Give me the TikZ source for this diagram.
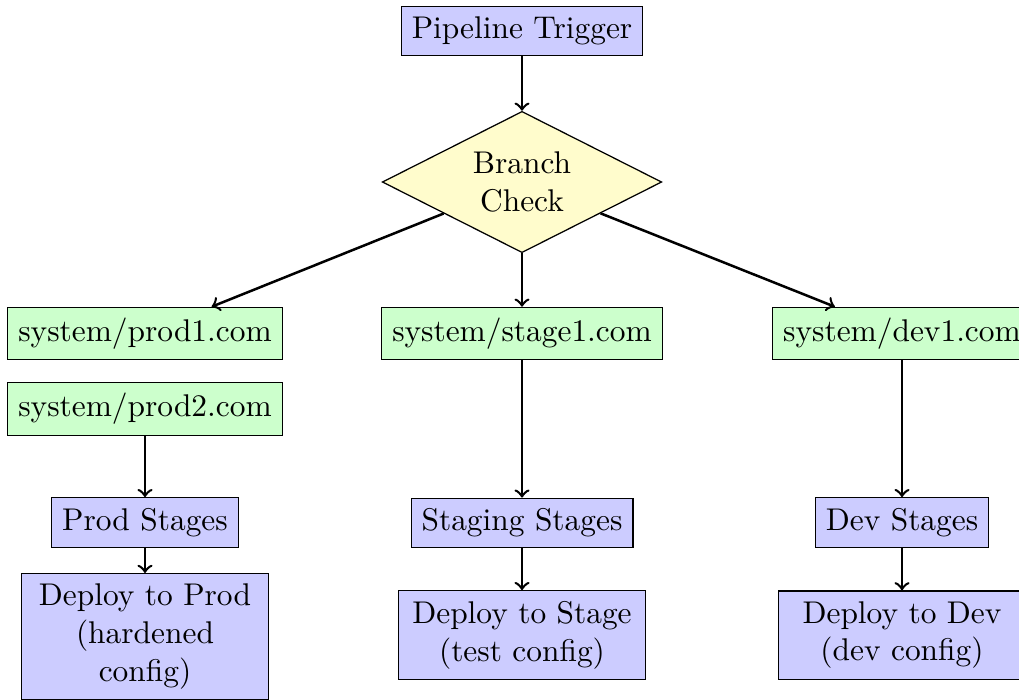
\documentclass[tikz,border=0pt]{standalone}
\usetikzlibrary{shapes.geometric}
\begin{document}
\begin{tikzpicture}[x=0.31847pt, y=-0.31847pt,
  box/.style={draw, rectangle, inner sep=0.3333em},
  stagebox/.style={box, fill=blue!20},
  hostbox/.style={box, fill=green!20},
  deploybox/.style={box, fill=blue!20, text width=72pt, align=center},
  decision/.style={draw, diamond, fill=yellow!20, aspect=2, inner sep=0pt,
                   minimum width=89pt, minimum height=45pt, align=center},
  flow/.style={->, thick}]
\useasboundingbox (0,0) rectangle (1019,699);

% entry and branch decision
\node[stagebox] (trig) at (522,31) {Pipeline Trigger};
\node[decision] (check) at (522,182) {Branch\\Check};

% target hosts
\node[hostbox] (prod1) at (145,333.5) {system/prod1.com};
\node[hostbox] (prod2) at (145,409) {system/prod2.com};
\node[hostbox] (stage1) at (522,333.5) {system/stage1.com};
\node[hostbox] (dev1) at (902,333.5) {system/dev1.com};

% stage groups
\node[stagebox] (prodst) at (145,522.5) {Prod Stages};
\node[stagebox] (stagest) at (522,523) {Staging Stages};
\node[stagebox] (devst) at (902,522.5) {Dev Stages};

% deployments
\node[deploybox] (dprod) at (145,636.5) {Deploy to Prod\\(hardened\\config)};
\node[deploybox] (dstage) at (522,635) {Deploy to Stage\\(test config)};
\node[deploybox] (ddev) at (902,635) {Deploy to Dev\\(dev config)};

% connectors
\draw[flow] (trig) -- (check);
\draw[flow] (check) -- (prod1);
\draw[flow] (check) -- (stage1);
\draw[flow] (check) -- (dev1);
\draw[flow] (prod2) -- (prodst);
\draw[flow] (prodst) -- (dprod);
\draw[flow] (stage1) -- (stagest);
\draw[flow] (stagest) -- (dstage);
\draw[flow] (dev1) -- (devst);
\draw[flow] (devst) -- (ddev);
\end{tikzpicture}
\end{document}
